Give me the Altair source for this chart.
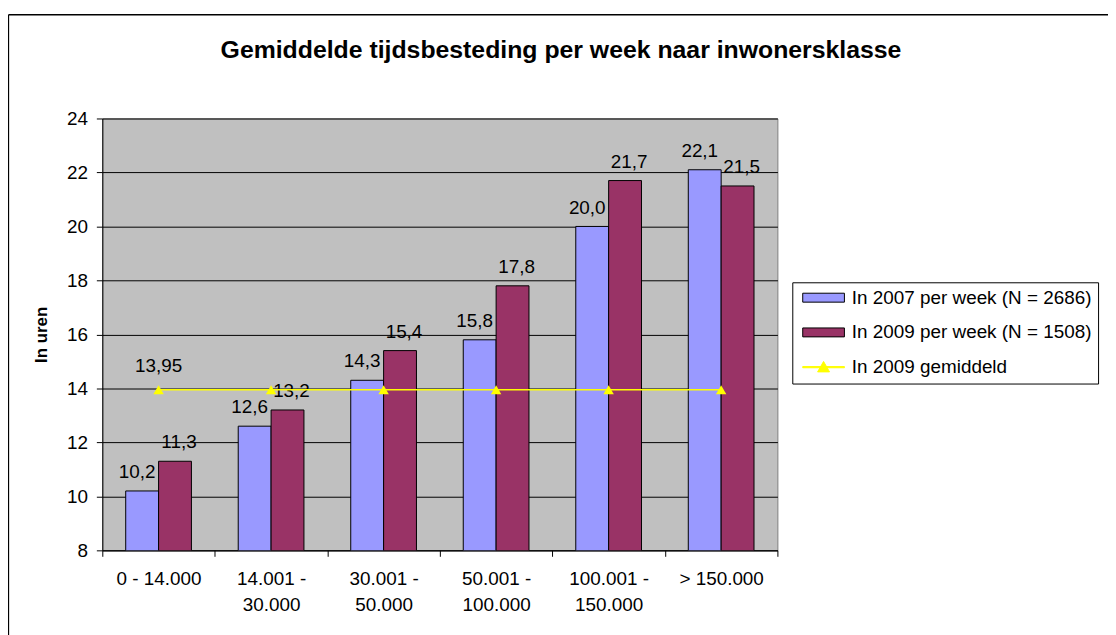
import altair as alt
import pandas as pd

categories = ["0 - 14.000", "14.001 - 30.000", "30.001 - 50.000",
              "50.001 - 100.000", "100.001 - 150.000", "> 150.000"]
values_2007 = [10.2, 12.6, 14.3, 15.8, 20.0, 22.1]
values_2009 = [11.3, 13.2, 15.4, 17.8, 21.7, 21.5]
average_2009 = [13.95, 13.95, 13.95, 13.95, 13.95, 13.95]
series_names = ["In 2007 per week (N = 2686)", "In 2009 per week (N = 1508)", "In 2009 gemiddeld"]
series_colors = ["#9999FF", "#993366", "#FFFF00"]
y_ticks = [8, 10, 12, 14, 16, 18, 20, 22, 24]

FONT = "Liberation Sans"
FS = 19

bar_rows = []
for c, v in zip(categories, values_2007):
    bar_rows.append({"category": c, "series": series_names[0], "value": v})
for c, v in zip(categories, values_2009):
    bar_rows.append({"category": c, "series": series_names[1], "value": v})
bar_df = pd.DataFrame(bar_rows)
avg_df = pd.DataFrame({"category": categories, "avg": average_2009})

x_enc = alt.X(
    "category:N", sort=categories,
    scale=alt.Scale(paddingInner=0, paddingOuter=0),
    axis=alt.Axis(
        title=None, labelAngle=0, tickBand="extent", tickSize=6, labelPadding=13,
        labelFont=FONT, labelFontSize=FS, labelColor="black", labelLineHeight=27,
        labelExpr=("length(datum.label) > 11 ? [slice(datum.label, 0, indexof(datum.label, ' - ') + 2), "
                   "slice(datum.label, indexof(datum.label, ' - ') + 3)] : datum.label"),
        domainColor="black", tickColor="black", grid=False, labelLimit=0,
    ),
)
y_scale = alt.Scale(domain=[8, 24], nice=False, zero=False)
y_enc = alt.Y(
    "value:Q", scale=y_scale,
    axis=alt.Axis(
        values=y_ticks, title="In uren", titleFont=FONT, titleFontSize=17, titleFontWeight="bold",
        titleColor="black", titlePadding=16, labelFont=FONT, labelFontSize=FS, labelColor="black",
        labelPadding=9, tickSize=6, tickColor="black", domainColor="black",
        grid=True, gridColor="black", gridWidth=1,
    ),
)
xoff = alt.XOffset("series:N", sort=series_names[:2],
                   scale=alt.Scale(paddingOuter=0.712, paddingInner=0))

legend = alt.Legend(
    title=None, orient="none", legendX=695, legendY=165, direction="vertical",
    symbolType=alt.ExprRef(
        expr="datum.value == 'In 2009 gemiddeld' ? "
             "'M-4.2,-0.12H4.2V0.12H-4.2Z M0,-1.15L1.2,0.95H-1.2Z' : 'M-4.2,-0.9H4.2V0.9H-4.2Z'"),
    symbolStrokeColor=alt.ExprRef(
        expr="datum.value == 'In 2009 gemiddeld' ? '#FFFF00' : '#000000'"),
    symbolStrokeWidth=1, symbolSize=100, symbolOffset=16, labelOffset=19,
    labelFont=FONT, labelFontSize=FS, labelColor="black", labelLimit=0,
    strokeColor="black", fillColor="white", padding=6, rowPadding=15,
)

bars = alt.Chart(bar_df).mark_bar(stroke="black", strokeWidth=1, clip=True).encode(
    x=x_enc, xOffset=xoff, y=y_enc,
    color=alt.Color("series:N", scale=alt.Scale(domain=series_names, range=series_colors), legend=legend),
)

label_base = alt.Chart(bar_df).transform_calculate(
    lbl="replace(format(datum.value, '.1f'), '.', ',')"
)
labels_2007 = label_base.transform_filter(
    alt.datum.series == series_names[0]
).mark_text(font=FONT, fontSize=FS, color="black", dy=-13, dx=-5, baseline="alphabetic").encode(
    x=alt.X("category:N", sort=categories), xOffset=xoff,
    y=alt.Y("value:Q", scale=y_scale), text="lbl:N",
)
labels_2009 = label_base.transform_filter(
    alt.datum.series == series_names[1]
).mark_text(font=FONT, fontSize=FS, color="black", dy=-13, dx=4, baseline="alphabetic").encode(
    x=alt.X("category:N", sort=categories), xOffset=xoff,
    y=alt.Y("value:Q", scale=y_scale), text="lbl:N",
)

avg_line = alt.Chart(avg_df).mark_line(color="#FFFF00", strokeWidth=1.5).encode(
    x=alt.X("category:N", sort=categories), y=alt.Y("avg:Q", scale=y_scale),
)
avg_points = alt.Chart(avg_df).mark_point(
    shape="triangle-up", filled=True, color="#FFFF00", opacity=1, size=110
).encode(
    x=alt.X("category:N", sort=categories), y=alt.Y("avg:Q", scale=y_scale),
)
avg_label = alt.Chart(avg_df).transform_filter(
    alt.datum.category == categories[0]
).transform_calculate(
    lbl="replace(format(datum.avg, '.2f'), '.', ',')"
).mark_text(font=FONT, fontSize=FS, color="black", dy=-18, baseline="alphabetic").encode(
    x=alt.X("category:N", sort=categories), y=alt.Y("avg:Q", scale=y_scale), text="lbl:N",
)

frame_df = pd.DataFrame({"k": [0]})
border_top = alt.Chart(frame_df).mark_rule(color="black", strokeWidth=1.3).encode(
    x=alt.value(-94.5), x2=alt.value(1030), y=alt.value(-104.5)
)
border_left = alt.Chart(frame_df).mark_rule(color="black", strokeWidth=1.3).encode(
    x=alt.value(-94.5), y=alt.value(-104.5), y2=alt.value(530)
)

chart = alt.layer(
    bars, labels_2007, labels_2009, avg_line, avg_points, avg_label, border_top, border_left
).properties(
    width=680, height=435,
    autosize=alt.AutoSizeParams(type="none"),
    padding={"left": 95, "top": 109, "right": 333, "bottom": 83},
    title=alt.TitleParams(
        text="Gemiddelde tijdsbesteding per week naar inwonersklasse",
        font=FONT, fontSize=25, fontWeight="bold", color="black",
        anchor="middle", frame="group", dx=122, offset=-49,
    ),
).configure(
    font=FONT, background="white"
).configure_view(
    fill="#C0C0C0", stroke="#808080", strokeWidth=1
)

chart.save("out.html", embed_options={"renderer": "svg", "actions": False})
